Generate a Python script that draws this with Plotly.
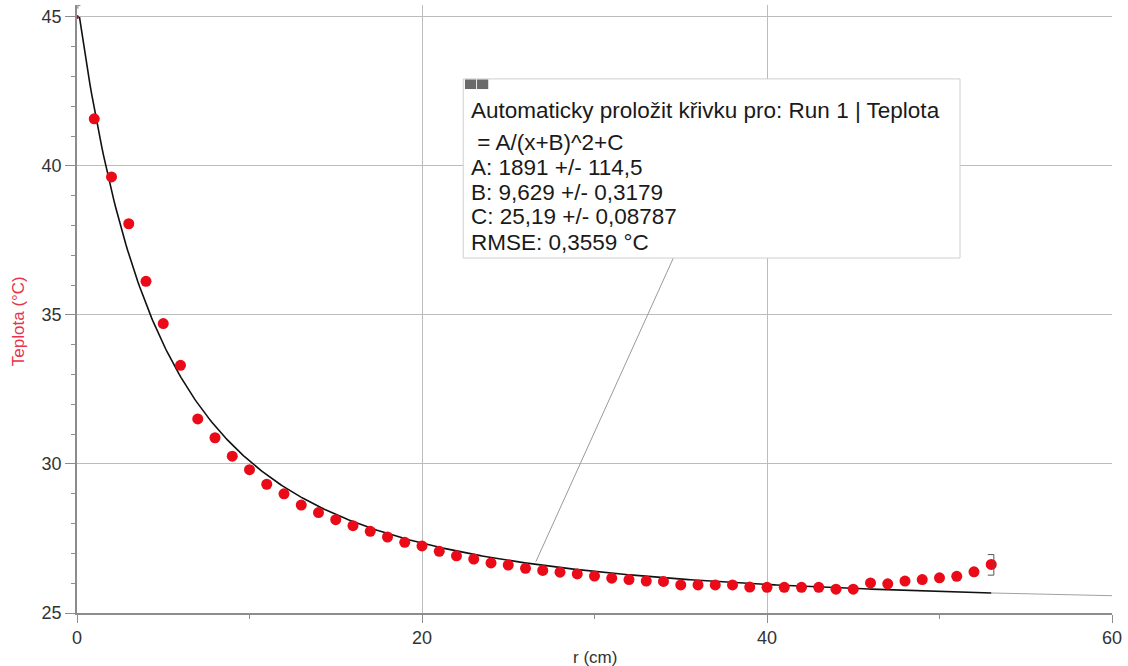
import numpy as np
import plotly.graph_objects as go

# ---- data ----
r_cm = list(range(0, 54))
teplota = [45.0, 41.58, 39.63, 38.06, 36.13, 34.71, 33.31, 31.51, 30.88, 30.26,
           29.81, 29.32, 29.0, 28.62, 28.37, 28.13, 27.93, 27.74, 27.55, 27.37,
           27.25, 27.07, 26.92, 26.81, 26.68, 26.61, 26.50, 26.43, 26.37, 26.31,
           26.24, 26.17, 26.12, 26.07, 26.06, 25.94, 25.94, 25.94, 25.94, 25.87,
           25.86, 25.86, 25.86, 25.86, 25.80, 25.80, 26.01, 25.98, 26.07, 26.12,
           26.18, 26.23, 26.38, 26.63]

# fit parameters shown on the chart: T = A/(x+B)^2 + C
fit_A = 1891.0
fit_B = 9.629
fit_C = 25.19

box_lines = [
    "Automaticky proložit křivku pro: Run 1 | Teplota",
    "\u00a0= A/(x+B)^2+C",
    "A: 1891 +/- 114,5",
    "B: 9,629 +/- 0,3179",
    "C: 25,19 +/- 0,08787",
    "RMSE: 0,3559 °C",
]

x_ticks = [0, 20, 40, 60]
y_ticks = [25, 30, 35, 40, 45]

# ---- figure ----
FONT = "Liberation Sans, Arial, sans-serif"
AXC = "#8c8c8c"
GRID = "#bcbcbc"

def fit(x):
    return fit_A / (x + fit_B) ** 2 + fit_C

# fitted curve drawn from where it enters the 45 °C level
x_start = np.sqrt(fit_A / (max(y_ticks) - fit_C)) - fit_B
x_in = np.linspace(x_start, max(r_cm), 531)
x_out = np.linspace(max(r_cm), 60, 71)

fig = go.Figure()
fig.add_trace(go.Scatter(x=x_out, y=fit(x_out), mode="lines",
                         line=dict(color="#a0a0a0", width=1), hoverinfo="skip"))
fig.add_trace(go.Scatter(x=x_in, y=fit(x_in), mode="lines",
                         line=dict(color="#111111", width=1.6), hoverinfo="skip"))

sizes = [4] + [11] * (len(r_cm) - 1)
colors = ["#7a1a24"] + ["#ea0a18"] * (len(r_cm) - 1)
fig.add_trace(go.Scatter(x=r_cm, y=teplota, mode="markers",
                         marker=dict(size=sizes, color=colors, opacity=1,
                                     line=dict(width=0)),
                         cliponaxis=False))

# annotation box (fit info)
bx0, bx1, by0, by1 = 22.39, 51.19, 36.91, 42.92
fig.add_shape(type="line", x0=26.6, y0=26.72, x1=34.57, y1=by0,
              line=dict(color="#9a9a9a", width=1), layer="above")
fig.add_shape(type="rect", x0=bx0, x1=bx1, y0=by0, y1=by1,
              fillcolor="white", line=dict(color="#cfcfcf", width=1), layer="above")
fig.add_shape(type="rect", x0=22.49, x1=23.14, y0=42.58, y1=42.90,
              fillcolor="#6a6a6a", line=dict(width=0), layer="above")
fig.add_shape(type="rect", x0=23.19, x1=23.84, y0=42.58, y1=42.90,
              fillcolor="#6a6a6a", line=dict(width=0), layer="above")

line_y = [41.86, 40.80, 39.96, 39.12, 38.30, 37.44]
for txt, yy in zip(box_lines, line_y):
    fig.add_annotation(x=22.74, y=yy, xref="x", yref="y", text=txt,
                       showarrow=False, xanchor="left", yanchor="middle",
                       font=dict(family=FONT, size=22.5, color="#1a1a1a"))

# fit-range brackets
fig.add_shape(type="path", path="M 52.8,26.96 L 53.15,26.96 L 53.15,26.27 L 52.8,26.27",
              line=dict(color="#555555", width=1), layer="above")
fig.add_shape(type="path", path="M 0.05,45.28 L 0.05,45.39 L 0.2,45.39",
              line=dict(color="#777777", width=1), layer="above")

# axis titles
fig.add_annotation(x=-0.057, y=0.48, xref="paper", yref="paper", text="Teplota (°C)",
                   textangle=-90, showarrow=False, xanchor="center", yanchor="middle",
                   font=dict(family=FONT, size=17, color="#e8334a"))
fig.add_annotation(x=0.5, y=-0.074, xref="paper", yref="paper", text="r (cm)",
                   showarrow=False, xanchor="center", yanchor="middle",
                   font=dict(family=FONT, size=17, color="#333333"))

fig.update_layout(
    width=1128, height=666,
    margin=dict(l=77, r=16, t=5, b=53),
    plot_bgcolor="white", paper_bgcolor="white",
    showlegend=False,
    font=dict(family=FONT),
    xaxis=dict(range=[0, 60], tickvals=x_ticks, ticks="outside", ticklen=8,
               tickcolor=AXC, showline=True, linecolor=AXC, linewidth=1.5,
               showgrid=True, gridcolor=GRID, gridwidth=1, zeroline=False,
               tickfont=dict(family=FONT, size=18, color="#333333"),
               minor=dict(dtick=10, tick0=0, ticks="outside", ticklen=4,
                          tickcolor=AXC, showgrid=False)),
    yaxis=dict(range=[25, 45.4], tickvals=y_ticks, ticks="outside", ticklen=10,
               tickcolor=AXC, showline=True, linecolor=AXC, linewidth=1.5,
               showgrid=True, gridcolor=GRID, gridwidth=1, zeroline=False,
               tickfont=dict(family=FONT, size=18, color="#333333"),
               minor=dict(dtick=1, tick0=25, ticks="outside", ticklen=4,
                          tickcolor=AXC, showgrid=False)),
)

fig.write_html("out.html", config={"displayModeBar": False},
               post_script="document.body.style.margin='0';"
                           "document.body.style.overflow='hidden';")
